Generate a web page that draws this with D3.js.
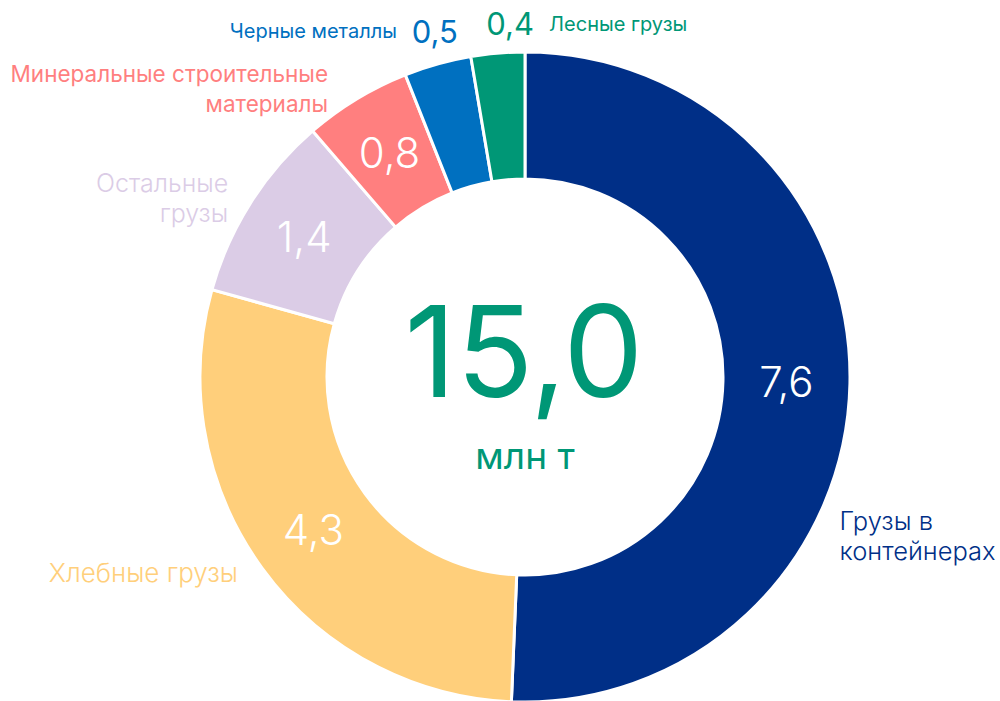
<!DOCTYPE html>
<html>
<head>
<meta charset="utf-8">
<script src="https://cdn.jsdelivr.net/npm/d3@7"></script>
<style>
  html, body { margin: 0; padding: 0; background: #fff; }
  svg { display: block; font-family: Inter, "Noto Sans", sans-serif; }
</style>
</head>
<body>
<script>
// data
const categories = ["Грузы в контейнерах", "Хлебные грузы", "Остальные грузы",
  "Минеральные строительные материалы", "Черные металлы", "Лесные грузы"];
const values = [7.6, 4.3, 1.4, 0.8, 0.5, 0.4];
const labelLines = [["Грузы в", "контейнерах"], ["Хлебные грузы"], ["Остальные", "грузы"],
  ["Минеральные строительные", "материалы"], ["Черные металлы"], ["Лесные грузы"]];
const colors = ["#002f87", "#ffcf7b", "#dbcce6", "#ff7f7f", "#0070c0", "#009776"];
const unit = "млн т";

// label layout (degrees clockwise from top, radius, font size)
const labelAngles = [116, 234.4, 302, 326.3, 344.9, 357.5];
const labelRadii = [350, 353, 350, 355, 346, 342];
const labelSizes = [25.5, 26, 25, 22.5, 20, 20];
const outsideValue = [false, false, false, false, true, true];

const w = 1000, h = 701;
const cx = 525, cy = 377;
const rOuter = 325, rInner = 198;

const ru = d3.formatLocale({decimal: ",", thousands: " ", grouping: [3], currency: ["", ""]});
const fmt = ru.format(".1f");

const svg = d3.select("body").append("svg")
  .attr("width", w).attr("height", h)
  .attr("viewBox", `0 0 ${w} ${h}`);

const g = svg.append("g").attr("transform", `translate(${cx},${cy})`);

const pie = d3.pie().sort(null).value(d => d);
const arcs = pie(values);

const arc = d3.arc().innerRadius(rInner).outerRadius(rOuter);

g.selectAll("path.slice")
  .data(arcs)
  .enter()
  .append("path")
  .attr("class", "slice")
  .attr("d", arc)
  .attr("fill", (d, i) => colors[i])
  .attr("stroke", "#fff")
  .attr("stroke-width", 3)
  .attr("stroke-linejoin", "miter");

// values inside
g.selectAll("text.val")
  .data(arcs.filter((d, i) => !outsideValue[i]))
  .enter()
  .append("text")
  .attr("class", "val")
  .attr("transform", d => `translate(${arc.centroid(d)})`)
  .attr("dy", "0.35em")
  .attr("text-anchor", "middle")
  .attr("fill", "#fff")
  .attr("font-size", 42)
  .attr("font-weight", 300)
  .text(d => fmt(d.data));

const polar = (deg, r) => {
  let a = deg * Math.PI / 180;
  return [r * Math.sin(a), -r * Math.cos(a)];
};

// category labels
arcs.forEach((d, i) => {
  let [x, y] = polar(labelAngles[i], labelRadii[i]);
  if (outsideValue[i]) {
    g.append("text")
      .attr("x", x).attr("y", y)
      .attr("text-anchor", "middle")
      .attr("fill", colors[i])
      .attr("font-size", 31)
      .text(fmt(d.data));
    let left = x < 0 && i !== arcs.length - 1;
    g.append("text")
      .attr("x", left ? x - 38 : x + 39)
      .attr("y", left ? y - 5 : y - 4)
      .attr("text-anchor", left ? "end" : "start")
      .attr("fill", colors[i])
      .attr("font-size", labelSizes[i])
      .text(labelLines[i][0]);
  } else {
    let t = g.append("text")
      .attr("x", x).attr("y", y)
      .attr("text-anchor", x < 0 ? "end" : "start")
      .attr("fill", colors[i])
      .attr("font-size", labelSizes[i])
      .attr("font-weight", labelSizes[i] > 24 ? 300 : 400);
    labelLines[i].forEach((line, j) => {
      t.append("tspan")
        .attr("x", x)
        .attr("dy", j === 0 ? 0 : 30)
        .text(line);
    });
  }
});

// total in the middle
g.append("text")
  .attr("x", -1).attr("y", 20)
  .attr("text-anchor", "middle")
  .attr("fill", "#009776")
  .attr("font-size", 127)
  .text(fmt(d3.sum(values)));

g.append("text")
  .attr("x", 0).attr("y", 92)
  .attr("text-anchor", "middle")
  .attr("fill", "#009776")
  .attr("font-size", 37)
  .text(unit);
</script>
</body>
</html>
